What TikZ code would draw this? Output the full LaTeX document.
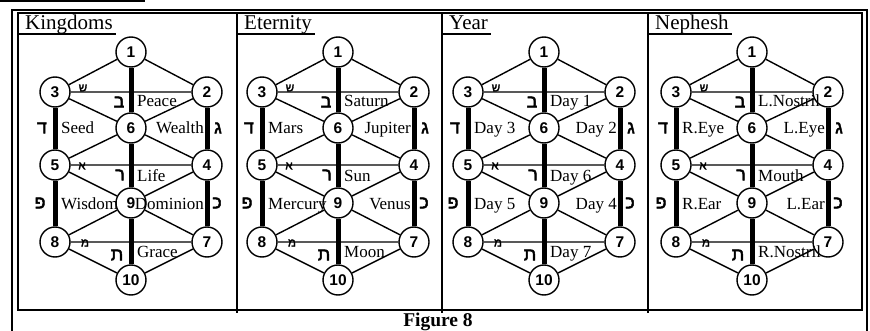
\documentclass[tikz,border=0pt]{standalone}
\usepackage{fontspec}
\setmainfont{Liberation Serif}
\newfontfamily\numfont{Liberation Sans}
\newfontfamily\hebfont[Script=Hebrew, FakeBold=2.5]{Liberation Sans}
\TeXXeTstate=1
\newcommand{\heb}[1]{\beginR #1\endR}

\tikzset{
  frame/.style={line width=1.3pt},
  sefira/.style={circle, draw, line width=1.4pt, minimum size=30pt, inner sep=0pt,
    font=\numfont\bfseries\fontsize{15.5}{15.5}\selectfont},
  thin path/.style={line width=1.4pt},
  thick path/.style={line width=5pt},
  lbl/.style={inner sep=0pt, font=\fontsize{17}{17}\selectfont},
  letter/.style={inner sep=0pt, font=\hebfont\fontsize{18}{18}\selectfont},
  small letter/.style={inner sep=0pt, font=\hebfont\fontsize{11.5}{11.5}\selectfont},
  ttl/.style={inner xsep=3pt, inner ysep=0pt, font=\fontsize{21}{21}\selectfont},
}

\begin{document}
\begin{tikzpicture}[x=1pt, y=-1pt]
  \useasboundingbox (0,0) rectangle (870,331);
  % frames
  \draw[frame] (0,1) -- (145,1);
  \draw[frame] (12,331) -- (12,10) -- (867,10) -- (867,331);
  \draw[frame] (18,13) rectangle (862,310);
  \draw[frame] (237,13) -- (237,313);
  \draw[frame] (442,13) -- (442,313);
  \draw[frame] (648,13) -- (648,313);
  \node (fig) at (438,322) {\fontsize{19.5}{20}\selectfont\bfseries Figure 8};

  \foreach \p/\xl/\cx/\ttl/\la/\lb/\lc/\ld/\le/\lf/\lg in {
    k/18/131/Kingdoms/Peace/Seed/Wealth/Life/Wisdom/Dominion/Grace,
    e/237/338/Eternity/Saturn/Mars/Jupiter/Sun/Mercury/Venus/Moon,
    y/442/544/Year/Day 1/Day 3/Day 2/Day 6/Day 5/Day 4/Day 7,
    n/648/752/Nephesh/L.Nostril/R.Eye/L.Eye/Mouth/R.Ear/L.Ear/R.Nostril}
  {
    % title
    \node[ttl, anchor=base west] (\p-t) at ({\xl+4},30) {\ttl};
    \draw[frame] (\xl,34) -- (\p-t.east |- 0,34);
    % sefirot
    \node[sefira] (\p1) at (\cx,52) {1};
    \node[sefira] (\p2) at ({\cx+76},92) {2};
    \node[sefira] (\p3) at ({\cx-76},92) {3};
    \node[sefira] (\p6) at (\cx,128) {6};
    \node[sefira] (\p4) at ({\cx+76},165) {4};
    \node[sefira] (\p5) at ({\cx-76},165) {5};
    \node[sefira] (\p9) at (\cx,203) {9};
    \node[sefira] (\p7) at ({\cx+76},242) {7};
    \node[sefira] (\p8) at ({\cx-76},242) {8};
    \node[sefira] (\p10) at (\cx,280) {10};
    % paths
    \draw[thick path] (\p1) -- (\p6) (\p6) -- (\p9) (\p9) -- (\p10)
      (\p3) -- (\p5) (\p5) -- (\p8) (\p2) -- (\p4) (\p4) -- (\p7);
    \draw[thin path] (\p1) -- (\p2) (\p1) -- (\p3) (\p3) -- (\p2)
      (\p3) -- (\p6) (\p2) -- (\p6) (\p6) -- (\p5) (\p6) -- (\p4)
      (\p5) -- (\p4) (\p5) -- (\p9) (\p4) -- (\p9)
      (\p9) -- (\p8) (\p9) -- (\p7) (\p8) -- (\p7)
      (\p8) -- (\p10) (\p7) -- (\p10);
    % letters
    \node[small letter] (\p-shin) at ({\cx-48},88) {\heb{ש}};
    \node[small letter] (\p-alef) at ({\cx-49},166) {\heb{א}};
    \node[small letter] (\p-mem) at ({\cx-46},243) {\heb{מ}};
    \node[letter] (\p-bet) at ({\cx-12},102) {\heb{ב}};
    \node[letter] (\p-dalet) at ({\cx-89},128) {\heb{ד}};
    \node[letter] (\p-gimel) at ({\cx+87},128) {\heb{ג}};
    \node[letter] (\p-resh) at ({\cx-11},175) {\heb{ר}};
    \node[letter] (\p-pe) at ({\cx-91},203) {\heb{פ}};
    \node[letter] (\p-kaf) at ({\cx+86},203) {\heb{כ}};
    \node[letter] (\p-tav) at ({\cx-14},255) {\heb{ת}};
    % labels
    \node[lbl, anchor=base west] (\p-a) at ({\cx+6},107) {\la};
    \node[lbl, anchor=base west] (\p-b) at ({\cx-70},134) {\lb};
    \node[lbl, anchor=base east] (\p-c) at ({\cx+73},134) {\lc};
    \node[lbl, anchor=base west] (\p-d) at ({\cx+6},182) {\ld};
    \node[lbl, anchor=base west] (\p-e) at ({\cx-70},210) {\le};
    \node[lbl, anchor=base east] (\p-f) at ({\cx+73},210) {\lf};
    \node[lbl, anchor=base west] (\p-g) at ({\cx+6},258) {\lg};
  }
\end{tikzpicture}
\end{document}
